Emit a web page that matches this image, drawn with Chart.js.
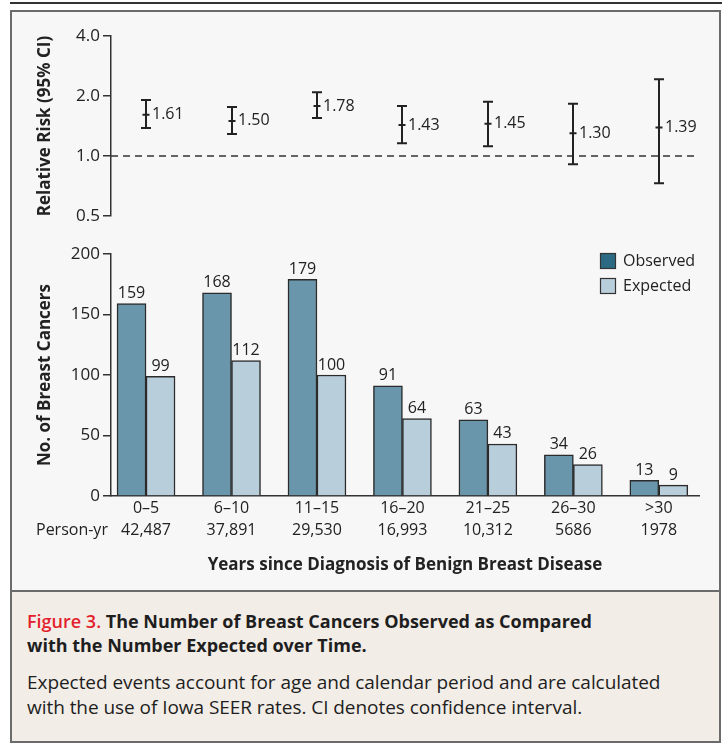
<!DOCTYPE html>
<html>
<head>
<meta charset="utf-8">
<script src="https://cdn.jsdelivr.net/npm/chart.js@4.4.1/dist/chart.umd.min.js"></script>
<style>
  html, body { margin: 0; padding: 0; background: #fff; width: 722px; height: 744px; overflow: hidden; font-family: 'Open Sans', sans-serif; }
  #rule { position: absolute; left: 10px; top: 2px; width: 712px; height: 2px; background: #333; }
  #panel { position: absolute; left: 10px; top: 10px; width: 711px; height: 582px; box-sizing: border-box; border: 2px solid #6b6b6b; background: #f7f7f7; }
  #caption { position: absolute; left: 10px; top: 590px; width: 711px; height: 153px; box-sizing: border-box; border: 2px solid #6b6b6b; background: #f2ede7; color: #1e1e1e; }
  .cap-title { position: absolute; left: 15px; top: 17px; font-size: 18px; line-height: 24px; font-weight: 700; white-space: nowrap; }
  .cap-title .fig { color: #e41f2d; font-weight: 600; }
  .cap-body { position: absolute; left: 15px; top: 78px; font-size: 19px; line-height: 25px; white-space: nowrap; letter-spacing: -0.05px; }
  canvas { position: absolute; left: 0; }
  #riskChart { top: 0; }
  #countChart { top: 236px; }
</style>
</head>
<body>
<div id="rule"></div>
<div id="panel"></div>
<canvas id="riskChart" width="722" height="236"></canvas>
<canvas id="countChart" width="722" height="354"></canvas>
<div id="caption">
  <div class="cap-title"><span class="fig">Figure 3.</span> The Number of Breast Cancers Observed as Compared<br>with the Number Expected over Time.</div>
  <div class="cap-body">Expected events account for age and calendar period and are calculated<br>with the use of Iowa SEER rates. CI denotes confidence interval.</div>
</div>
<script>
// data
const categories = ['0–5', '6–10', '11–15', '16–20', '21–25', '26–30', '>30'];
const personYears = ['42,487', '37,891', '29,530', '16,993', '10,312', '5686', '1978'];
const observed = [159, 168, 179, 91, 63, 34, 13];
const expected = [99, 112, 100, 64, 43, 26, 9];
const relativeRisk = [1.61, 1.50, 1.78, 1.43, 1.45, 1.30, 1.39];
const ciLower = [1.38, 1.29, 1.55, 1.16, 1.12, 0.91, 0.73];
const ciUpper = [1.91, 1.76, 2.09, 1.78, 1.87, 1.83, 2.43];
const riskTicks = [0.5, 1, 2, 4];

const ink = '#222';
const axisColor = '#333';
const baseFont = { family: "'Open Sans', sans-serif", size: 16 };
const tickFont = { family: "'Open Sans', sans-serif", size: 17 };
const titleFont = { family: "'Open Sans', sans-serif", size: 17, weight: 'bold' };

// error bars + dashed reference line at RR = 1
const errorBars = {
  id: 'errorBars',
  afterDatasetsDraw(chart) {
    const { ctx, chartArea, scales: { x, y } } = chart;
    ctx.save();
    const y1 = y.getPixelForValue(1);
    ctx.strokeStyle = axisColor;
    ctx.lineWidth = 1.5;
    ctx.setLineDash([7, 5]);
    ctx.beginPath();
    ctx.moveTo(chartArea.left, y1);
    ctx.lineTo(chartArea.right, y1);
    ctx.stroke();
    ctx.setLineDash([]);

    ctx.strokeStyle = ink;
    ctx.fillStyle = ink;
    ctx.lineWidth = 2;
    ctx.font = "16px 'Open Sans', sans-serif";
    ctx.textBaseline = 'middle';
    ctx.textAlign = 'left';
    relativeRisk.forEach((rr, i) => {
      const px = Math.round(x.getPixelForValue(i));
      const top = y.getPixelForValue(ciUpper[i]);
      const bot = y.getPixelForValue(ciLower[i]);
      const mid = y.getPixelForValue(rr);
      ctx.beginPath();
      ctx.moveTo(px, top); ctx.lineTo(px, bot);
      ctx.moveTo(px - 5, top); ctx.lineTo(px + 5, top);
      ctx.moveTo(px - 5, bot); ctx.lineTo(px + 5, bot);
      ctx.moveTo(px - 3.5, mid); ctx.lineTo(px + 3.5, mid);
      ctx.stroke();
      ctx.fillText(rr.toFixed(2), px + 6, mid);
    });
    ctx.restore();
  }
};

new Chart(document.getElementById('riskChart'), {
  type: 'scatter',
  data: {
    datasets: [{ data: relativeRisk.map((v, i) => ({ x: i, y: v })), pointRadius: 0 }]
  },
  options: {
    responsive: false,
    animation: false,
    layout: { padding: { top: 36, bottom: 20, right: 23, left: 0 } },
    plugins: { legend: { display: false }, tooltip: { enabled: false } },
    scales: {
      x: { type: 'linear', min: -0.41, max: 6.47, display: false },
      y: {
        type: 'logarithmic',
        min: 0.5,
        max: 4,
        afterBuildTicks: s => { s.ticks = riskTicks.map(v => ({ value: v })); },
        afterFit: s => { s.width = 111; },
        ticks: { callback: v => Number(v).toFixed(1), font: tickFont, color: ink, padding: 3 },
        grid: { drawOnChartArea: false, drawTicks: true, tickLength: 8, color: axisColor, lineWidth: 1.5 },
        border: { color: axisColor, width: 1.5 },
        title: { display: true, text: 'Relative Risk (95% CI)', font: titleFont, color: ink, padding: { top: 35, bottom: 0 } }
      }
    }
  },
  plugins: [errorBars]
});

// counts above bars, legend box, person-years row label
const barExtras = {
  id: 'barExtras',
  afterDatasetsDraw(chart) {
    const { ctx, scales: { x } } = chart;
    ctx.save();
    ctx.fillStyle = ink;
    ctx.font = "16px 'Open Sans', sans-serif";
    ctx.textAlign = 'center';
    ctx.textBaseline = 'alphabetic';
    chart.data.datasets.forEach((ds, d) => {
      chart.getDatasetMeta(d).data.forEach((bar, i) => {
        ctx.fillText(String(ds.data[i].y), bar.x, bar.y - 5.5);
      });
    });

    // legend
    const swatches = ['#2c6a83', '#b9cedb'];
    ctx.textAlign = 'left';
    ctx.textBaseline = 'middle';
    chart.data.datasets.forEach((ds, d) => {
      const top = 17 + d * 25;
      ctx.fillStyle = swatches[d];
      ctx.fillRect(600, top, 15, 15);
      ctx.strokeStyle = axisColor;
      ctx.lineWidth = 1.2;
      ctx.strokeRect(600.5, top + 0.5, 15, 15);
      ctx.fillStyle = ink;
      ctx.fillText(ds.label, 623, top + 8);
    });

    ctx.fillText('Person-yr', 36, x.top + 1 + 22 * 1.5);
    ctx.restore();
  }
};

new Chart(document.getElementById('countChart'), {
  type: 'bar',
  data: {
    datasets: [
      {
        label: 'Observed',
        data: observed.map((v, i) => ({ x: i, y: v })),
        backgroundColor: '#6a96ab',
        borderColor: '#2b2b2b',
        borderWidth: 1.5,
        barThickness: 29
      },
      {
        label: 'Expected',
        data: expected.map((v, i) => ({ x: i, y: v })),
        backgroundColor: '#b9cedb',
        borderColor: '#2b2b2b',
        borderWidth: 1.5,
        barThickness: 29
      }
    ]
  },
  options: {
    responsive: false,
    animation: false,
    layout: { padding: { top: 18, right: 23, left: 0, bottom: 0 } },
    plugins: { legend: { display: false }, tooltip: { enabled: false } },
    scales: {
      x: {
        type: 'linear',
        min: -0.41,
        max: 6.47,
        offset: false,
        afterBuildTicks: s => { s.ticks = categories.map((c, i) => ({ value: i })); },
        afterFit: s => { s.height = 94; },
        ticks: {
          callback: v => [categories[v], personYears[v]],
          font: { ...baseFont, lineHeight: 1.375 },
          color: ink,
          padding: 1,
          autoSkip: false,
          maxRotation: 0
        },
        grid: { display: false, drawTicks: false },
        border: { color: axisColor, width: 1.5 },
        title: { display: true, text: 'Years since Diagnosis of Benign Breast Disease', font: titleFont, color: ink, padding: { top: 0, bottom: 15 } }
      },
      y: {
        min: 0,
        max: 200,
        afterFit: s => { s.width = 111; },
        ticks: { stepSize: 50, font: tickFont, color: ink, padding: 3 },
        grid: { drawOnChartArea: false, drawTicks: true, tickLength: 8, color: axisColor, lineWidth: 1.5 },
        border: { color: axisColor, width: 1.5 },
        title: { display: true, text: 'No. of Breast Cancers', font: titleFont, color: ink, padding: { top: 35, bottom: 0 } }
      }
    }
  },
  plugins: [barExtras]
});
</script>
</body>
</html>
